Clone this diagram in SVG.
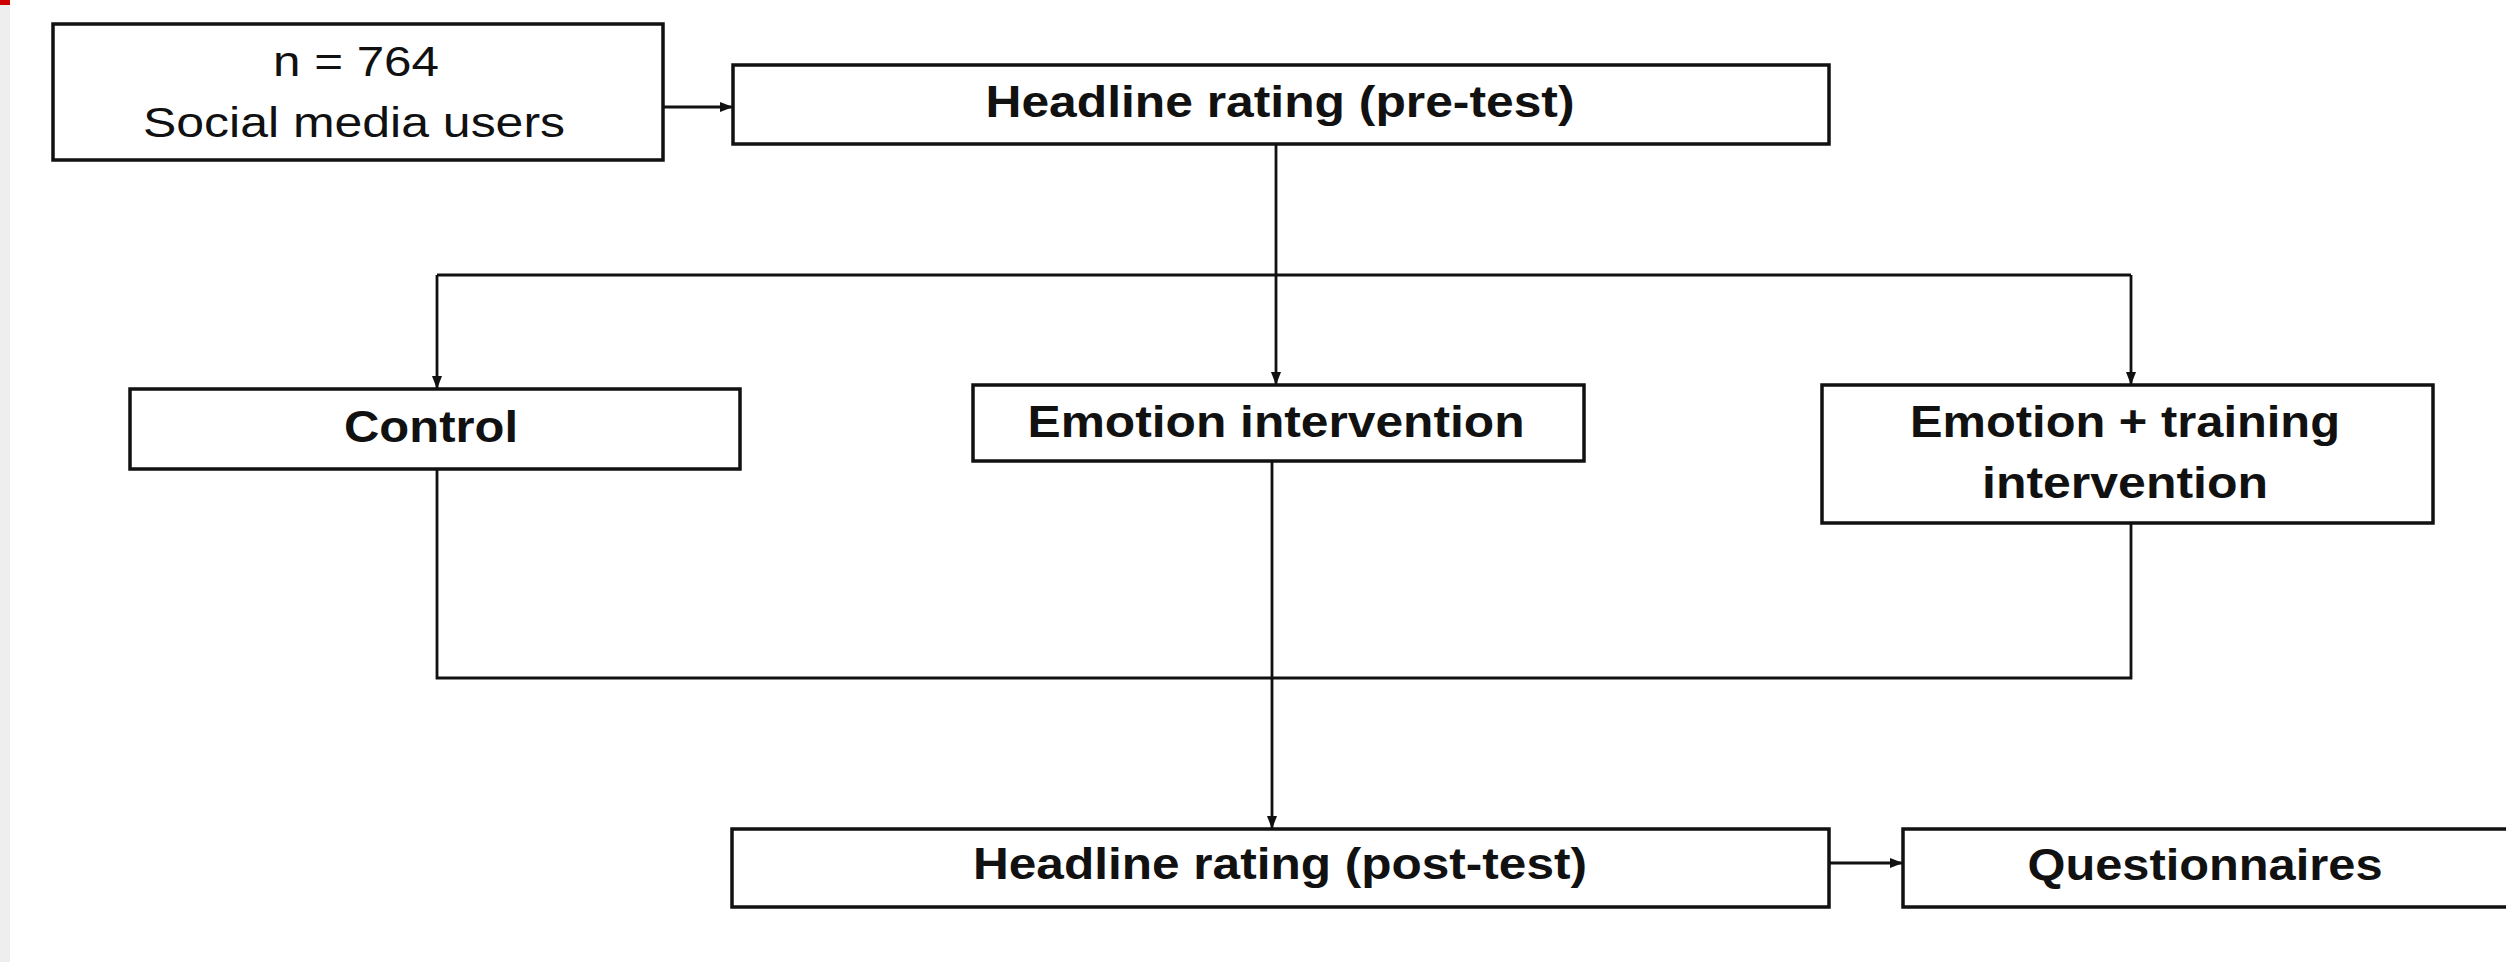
<svg xmlns="http://www.w3.org/2000/svg" width="2506" height="962" viewBox="0 0 2506 962">
<style>
.box{fill:#fff;stroke:#111;stroke-width:3.5}
.ln{fill:none;stroke:#111;stroke-width:2.8}
.t{font-family:"Liberation Sans","Arial",sans-serif;font-size:44px;fill:#111;text-anchor:middle}
.b{font-weight:bold}
</style>
<defs>
<marker id="ah" markerUnits="userSpaceOnUse" markerWidth="14" markerHeight="12" refX="13" refY="6" orient="auto">
<path d="M0,1 L13,6 L0,11 Z" fill="#111"/>
</marker>
</defs>
<rect x="0" y="0" width="2506" height="962" fill="#fff"/>
<rect x="0" y="0" width="10" height="962" fill="#eeeeee"/>
<rect x="0" y="0" width="10" height="5" fill="#cc0000"/>
<g id="connectors">
<line class="ln" x1="663" y1="107" x2="733" y2="107" marker-end="url(#ah)"/>
<line class="ln" x1="1276" y1="144" x2="1276" y2="385" marker-end="url(#ah)"/>
<line class="ln" x1="437" y1="275" x2="2131" y2="275"/>
<line class="ln" x1="437" y1="275" x2="437" y2="389" marker-end="url(#ah)"/>
<line class="ln" x1="2131" y1="275" x2="2131" y2="385" marker-end="url(#ah)"/>
<polyline class="ln" points="437,469 437,678 2131,678 2131,523"/>
<line class="ln" x1="1272" y1="461" x2="1272" y2="829" marker-end="url(#ah)"/>
<line class="ln" x1="1829" y1="863" x2="1903" y2="863" marker-end="url(#ah)"/>
</g>
<g id="n-users">
<rect class="box" x="53" y="24" width="610" height="136"/>
<text class="t" x="356" y="76" textLength="166" lengthAdjust="spacingAndGlyphs" style="font-size:43px">n = 764</text>
<text class="t" x="354" y="137" textLength="422" lengthAdjust="spacingAndGlyphs" style="font-size:43px">Social media users</text>
</g>
<g id="pre-test">
<rect class="box" x="733" y="65" width="1096" height="79"/>
<text class="t b" x="1280" y="117" textLength="589" lengthAdjust="spacingAndGlyphs">Headline rating (pre-test)</text>
</g>
<g id="control">
<rect class="box" x="130" y="389" width="610" height="80"/>
<text class="t b" x="431" y="442" textLength="174" lengthAdjust="spacingAndGlyphs">Control</text>
</g>
<g id="emotion">
<rect class="box" x="973" y="385" width="611" height="76"/>
<text class="t b" x="1276" y="437" textLength="497" lengthAdjust="spacingAndGlyphs">Emotion intervention</text>
</g>
<g id="emotion-training">
<rect class="box" x="1822" y="385" width="611" height="138"/>
<text class="t b" x="2125" y="437" textLength="430" lengthAdjust="spacingAndGlyphs">Emotion + training</text>
<text class="t b" x="2125" y="498" textLength="286" lengthAdjust="spacingAndGlyphs">intervention</text>
</g>
<g id="post-test">
<rect class="box" x="732" y="829" width="1097" height="78"/>
<text class="t b" x="1280" y="879" textLength="614" lengthAdjust="spacingAndGlyphs">Headline rating (post-test)</text>
</g>
<g id="questionnaires">
<rect class="box" x="1903" y="829" width="610" height="78"/>
<text class="t b" x="2205" y="880" textLength="355" lengthAdjust="spacingAndGlyphs">Questionnaires</text>
</g>
</svg>
